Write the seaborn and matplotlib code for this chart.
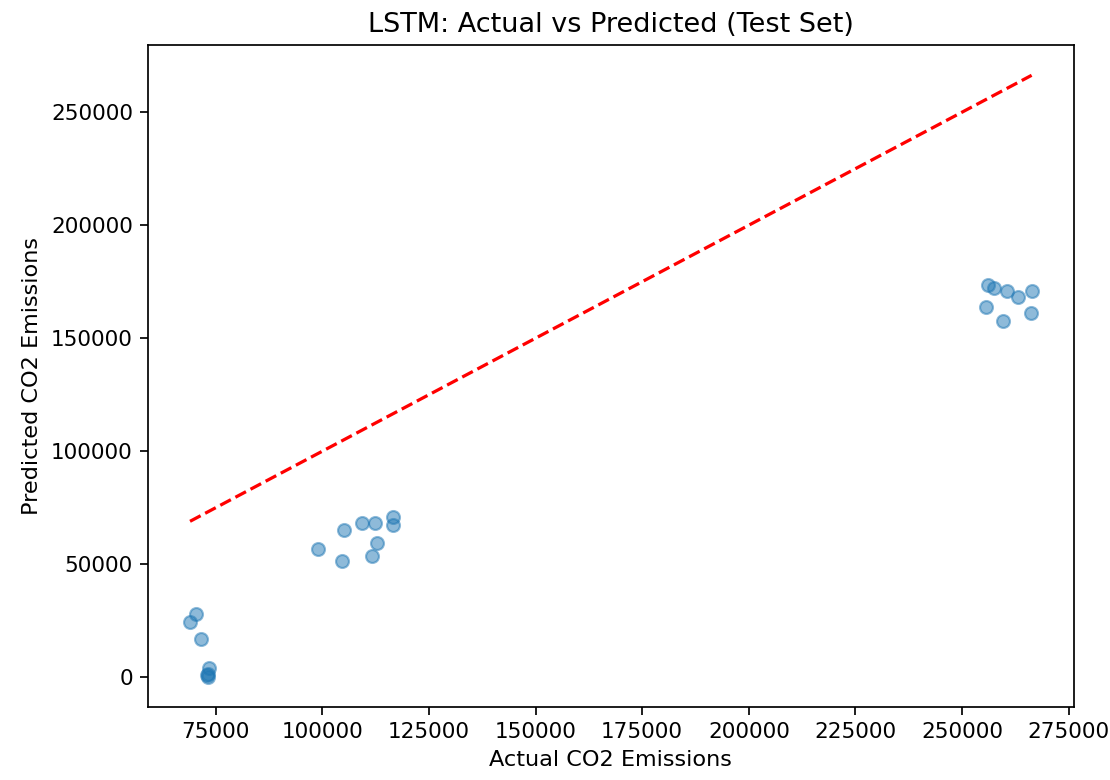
import matplotlib
matplotlib.use("Agg")
import matplotlib.pyplot as plt
import seaborn as sns
import pandas as pd

# Test-set CO2 emissions: actual values and LSTM predictions
actual = [
    69000, 70300, 71600, 73400, 73100, 73000, 73300,
    99050, 104700, 105100, 109300, 112400, 111600, 112900, 116600, 116600,
    256000, 257500, 260600, 263000, 266300, 255600, 259500, 266100,
]
predicted = [
    24300, 27800, 16900, 4300, 300, 800, 1300,
    56700, 51600, 65300, 68200, 68200, 53700, 59600, 70900, 67500,
    173600, 172100, 170800, 168400, 170800, 163700, 157800, 161200,
]

df = pd.DataFrame({"actual": actual, "predicted": predicted})

fig = plt.figure(figsize=(1110 / 155, 780 / 155), dpi=155)
ax = fig.add_axes([0.1333, 0.094, 0.834, 0.848])

sns.scatterplot(data=df, x="actual", y="predicted", ax=ax,
                color="#1f77b4", alpha=0.5, s=36, edgecolor="face", linewidth=1)

# Ideal fit line y = x across the range of actual values
lo, hi = min(actual), max(actual)
ax.plot([lo, hi], [lo, hi], "r--", lw=1.5)

ax.set_title("LSTM: Actual vs Predicted (Test Set)", fontsize=12.6)
ax.set_xlabel("Actual CO2 Emissions", fontsize=10.4)
ax.set_ylabel("Predicted CO2 Emissions", fontsize=10.4)

fig.savefig("out.png", dpi=155)
